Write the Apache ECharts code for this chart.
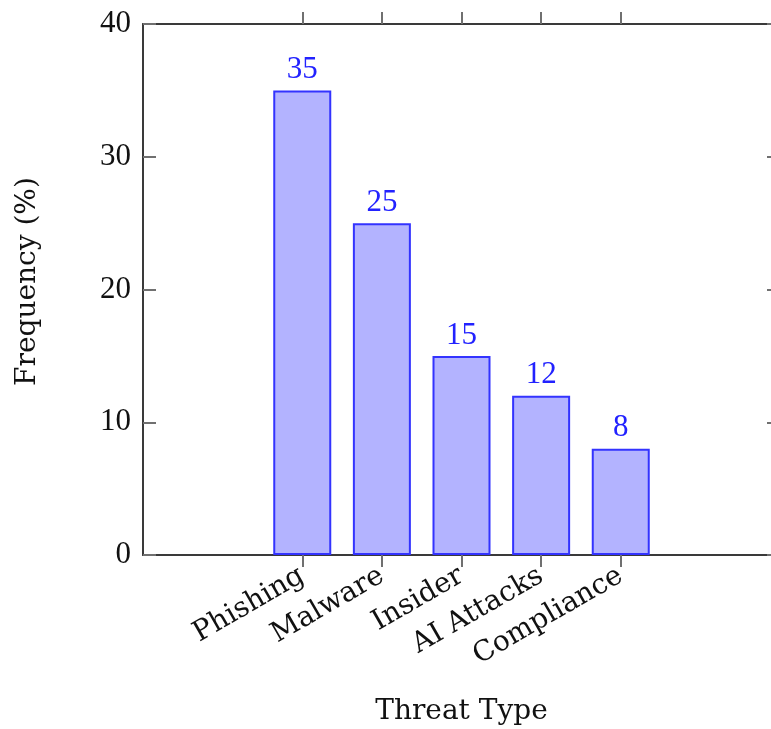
<!DOCTYPE html>
<html>
<head>
<meta charset="utf-8">
<script src="https://cdn.jsdelivr.net/npm/echarts@6/dist/echarts.min.js"></script>
<style>html,body{margin:0;padding:0;background:#fff}#c{width:771px;height:729px}</style>
</head>
<body>
<div id="c"></div>
<script>
const categories = ['Phishing', 'Malware', 'Insider', 'AI Attacks', 'Compliance'];
const frequency = [35, 25, 15, 12, 8];
const yTicks = [0, 10, 20, 30, 40];

const numFont = 'Liberation Serif';
const textFont = 'DejaVu Serif';
const axisColor = '#3a3a3a';
const tickColor = '#707070';
const idx = categories.map((_, i) => i);

const chart = echarts.init(document.getElementById('c'), null, {renderer: 'canvas'});
chart.setOption({
  animation: false,
  backgroundColor: '#fff',
  grid: {left: 143, top: 24, width: 637, height: 531, containLabel: false, outerBoundsMode: 'none'},
  xAxis: [{
    type: 'value', min: -2, max: 6, interval: 1, position: 'bottom',
    axisLine: {show: true, onZero: false, lineStyle: {color: axisColor, width: 2}},
    axisTick: {show: true, inside: false, length: 12, customValues: idx, lineStyle: {color: tickColor, width: 2}},
    splitLine: {show: false},
    axisLabel: {
      customValues: idx, rotate: 30, margin: 19,
      formatter: v => categories[Math.round(v)] || '',
      fontFamily: textFont, fontSize: 28, color: '#111'
    },
    name: 'Threat Type', nameLocation: 'middle', nameGap: 143,
    nameTextStyle: {fontFamily: textFont, fontSize: 28, color: '#111'}
  }, {
    type: 'value', min: -2, max: 6, interval: 1, position: 'top',
    axisLine: {show: true, onZero: false, lineStyle: {color: axisColor, width: 2}},
    axisTick: {show: true, inside: false, length: 12, customValues: idx, lineStyle: {color: tickColor, width: 2}},
    axisLabel: {show: false}, splitLine: {show: false}
  }],
  yAxis: [{
    type: 'value', min: 0, max: 40, interval: 10, position: 'left',
    axisLine: {show: true, onZero: false, lineStyle: {color: axisColor, width: 2}},
    axisTick: {show: true, inside: true, length: 13, customValues: yTicks, lineStyle: {color: tickColor, width: 2}},
    splitLine: {show: false},
    axisLabel: {margin: 12, fontFamily: numFont, fontSize: 31, color: '#111', customValues: yTicks},
    name: 'Frequency (%)', nameLocation: 'middle', nameGap: 101, nameRotate: 90,
    nameTextStyle: {fontFamily: textFont, fontSize: 28, color: '#111', padding: [0, 0, 0, 16]}
  }, {
    type: 'value', min: 0, max: 40, interval: 10, position: 'right',
    axisLine: {show: true, onZero: false, lineStyle: {color: axisColor, width: 2}},
    axisTick: {show: true, inside: true, length: 13, lineStyle: {color: tickColor, width: 2}},
    axisLabel: {show: false}, splitLine: {show: false}
  }],
  series: [{
    type: 'bar',
    data: frequency.map((v, i) => [i, v]),
    barWidth: 58,
    itemStyle: {color: '#b3b3ff', borderColor: '#3333ff', borderWidth: 2},
    label: {show: true, position: 'top', distance: 5, fontFamily: numFont, fontSize: 31, color: '#2222ff'}
  }]
});
</script>
</body>
</html>
